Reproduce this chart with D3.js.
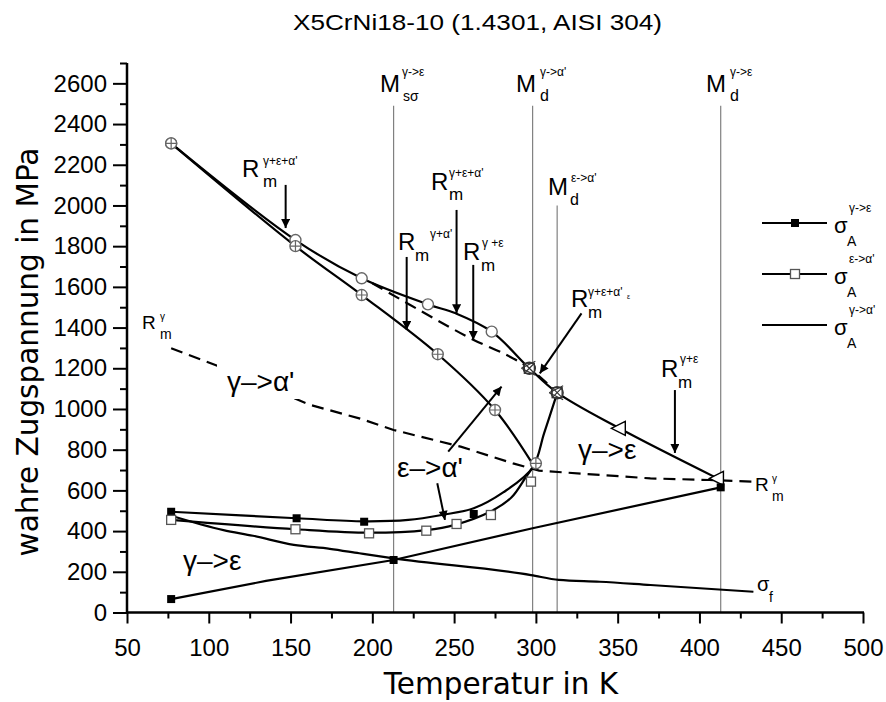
<!DOCTYPE html>
<html><head><meta charset="utf-8">
<script src="https://cdn.jsdelivr.net/npm/d3@7"></script>
<style>body{margin:0;background:#fff} svg{display:block}</style>
</head><body><svg id="c" width="886" height="702"></svg>
<script>
// ---------- data ----------
const xTicks = [50,100,150,200,250,300,350,400,450,500];
const yTicks = [0,200,400,600,800,1000,1200,1400,1600,1800,2000,2200,2400,2600];
const xMinor = [75,125,175,225,275,325,375,425,475];
const yMinor = [100,300,500,700,900,1100,1300,1500,1700,1900,2100,2300,2500,2700];

// R_m curves (temperature K, stress MPa)
const rmUpper = [[77,2305],[153,1830],[193.5,1642],[234,1514],[251,1470],[273,1380],[296,1200],[313,1080],[351,905],[411,659]];
const rmLower = [[77,2305],[153,1800],[193.5,1560],[240,1269],[275,995],[298,730]];
const rmGammaEps = [[200,1618],[241,1430],[262,1339],[282,1266],[296,1200],[313,1080]];
const rmGamma = [[77,1298],[104,1216],[162,1020],[192,954],[213,897],[254,815],[286,733],[302,697],[339,676],[370,659],[406,651],[432,643]];

// sigma_A curves
const sigAUpper = [[77,495],[153.7,463],[195,448],[222,455],[243,480],[262,512],[280,590],[298,712],[305,880],[313,1078]];
const sigALower = [[77,455],[153,409],[198,392],[233,405],[251,432],[272,495],[285,565],[294,667],[298,712]];
const sigAGammaEps = [[77,66],[135,155],[213,258],[298,414],[413,615]];
const sigmaF = [[76,478],[109,405],[127,377],[152,332],[174,313],[192,291],[213,266],[297,184],[314,160],[339,151],[370,135],[433,102]];

// markers
const mkCircle = [[77,2305],[153,1830],[193.5,1642],[234,1514],[273,1380]];
const mkCirclePlus = [[77,2305],[153,1800],[193.5,1560],[240,1269],[275,995],[300,733]];
const mkCombo = [[296,1200],[313,1080]];
const mkTriangle = [[351,905],[411,659]];
const mkFilledSq = [[77,495],[153.7,463],[195,446],[262,484],[77,66],[213,258],[413,615]];
const mkOpenSq = [[77,455],[153,409],[198,389],[233,402],[251.5,435],[272.5,479],[297,643]];

// vertical transformation temperatures [T, top stress]
const vLines = [[213,2490],[298,2490],[313,2000],[413,2490]];

// annotation arrows [[T1,S1],[T2,S2]]
const arrows = [
  [[147,2101],[147,1889]],
  [[251.5,1978],[251.5,1470]],
  [[221,1747],[221,1388]],
  [[261.7,1708],[261.7,1339]],
  [[327.9,1470],[302.4,1175]],
  [[385,1093],[385,784]],
  [[246.4,790],[279,1110]],
  [[239.7,635],[244.4,455]]
];

// ---------- drawing ----------
const svg = d3.select('#c');
const F = '"Liberation Sans", Arial, Helvetica, sans-serif';
const x = d3.scaleLinear().domain([50,500]).range([127,863]);
const y = d3.scaleLinear().domain([0,2700]).range([612.5,63]);

const defs = svg.append('defs');
defs.append('marker').attr('id','ah').attr('viewBox','0 0 10 10')
  .attr('refX',10).attr('refY',5).attr('markerWidth',14).attr('markerHeight',9)
  .attr('markerUnits','userSpaceOnUse').attr('orient','auto')
  .append('path').attr('d','M0,0L10,5L0,10Z').attr('fill','#000');

// title
svg.append('text').attr('x',293).attr('y',30).attr('font-family',F).attr('font-size',22)
  .attr('textLength',369).attr('lengthAdjust','spacingAndGlyphs')
  .text('X5CrNi18-10 (1.4301, AISI 304)');

// vertical lines
svg.append('g').selectAll('line').data(vLines).join('line')
  .attr('x1',d=>x(d[0])).attr('x2',d=>x(d[0])).attr('y1',y(0)).attr('y2',d=>y(d[1]))
  .attr('stroke','#808080').attr('stroke-width',1.2);

// axes
const gx = svg.append('g').attr('transform',`translate(0,${y(0)})`)
  .call(d3.axisBottom(x).tickValues(xTicks).tickFormat(d3.format('d')).tickSize(11).tickPadding(15).tickSizeOuter(0));
const gxm = svg.append('g').attr('transform',`translate(0,${y(0)})`)
  .call(d3.axisBottom(x).tickValues(xMinor).tickSize(6).tickFormat(''));
const gy = svg.append('g').attr('transform',`translate(${x(50)},0)`)
  .call(d3.axisLeft(y).tickValues(yTicks).tickFormat(d3.format('d')).tickSize(14).tickPadding(6).tickSizeOuter(0));
const gym = svg.append('g').attr('transform',`translate(${x(50)},0)`)
  .call(d3.axisLeft(y).tickValues(yMinor).tickSize(7).tickFormat(''));
gxm.select('.domain').remove(); gym.select('.domain').remove();
[gx,gy].forEach(g=>{
  g.select('.domain').attr('stroke','#000').attr('stroke-width',2.5);
  g.selectAll('text').attr('font-family',F).attr('font-size',24).attr('fill','#000');
});
gy.select('.domain').attr('d',`M0,${y(0)+1}V${y(2700)}`);
gx.select('.domain').attr('d',`M${x(50)-1},0H${x(500)+1}`);
[gx,gy,gxm,gym].forEach(g=>g.selectAll('.tick line').attr('stroke','#000').attr('stroke-width',2));

// axis titles
svg.append('text').attr('x',501).attr('y',694).attr('text-anchor','middle')
  .attr('font-family','"DejaVu Sans", sans-serif').attr('font-size',29.5).text('Temperatur in K');
svg.append('text').attr('transform','translate(38,352) rotate(-90)').attr('text-anchor','middle')
  .attr('font-family','"DejaVu Sans", sans-serif').attr('font-size',29.5).text('wahre Zugspannung in MPa');

const lineGen = (c)=>d3.line().x(d=>x(d[0])).y(d=>y(d[1])).curve(c);
function curve(data, c, dash){
  svg.append('path').datum(data).attr('d',lineGen(c)).attr('fill','none')
    .attr('stroke','#000').attr('stroke-width',2.2).attr('stroke-dasharray',dash||null);
}
curve(rmUpper, d3.curveCatmullRom);
curve(rmLower, d3.curveCatmullRom);
curve(rmGammaEps, d3.curveCatmullRom, '12,7');
curve(rmGamma, d3.curveLinear, '12,7');
curve(sigAUpper, d3.curveCatmullRom);
curve(sigALower, d3.curveCatmullRom);
curve(sigAGammaEps, d3.curveLinear);
curve(sigmaF, d3.curveMonotoneX);

// markers
const mg = svg.append('g');
mkCircle.forEach(d=>mg.append('circle').attr('cx',x(d[0])).attr('cy',y(d[1])).attr('r',5.5)
  .attr('fill','#fff').attr('stroke','#666').attr('stroke-width',1.4));
mkCirclePlus.forEach(d=>{
  const cx=x(d[0]), cy=y(d[1]);
  mg.append('circle').attr('cx',cx).attr('cy',cy).attr('r',5.5).attr('fill','#fff').attr('stroke','#666').attr('stroke-width',1.4);
  mg.append('path').attr('d',`M${cx-5.5},${cy}H${cx+5.5}M${cx},${cy-5.5}V${cy+5.5}`).attr('stroke','#666').attr('stroke-width',1.2);
});
mkCombo.forEach(d=>{
  const cx=x(d[0]), cy=y(d[1]);
  mg.append('rect').attr('x',cx-5).attr('y',cy-5).attr('width',10).attr('height',10).attr('fill','#fff').attr('stroke','#333').attr('stroke-width',1.3);
  mg.append('circle').attr('cx',cx).attr('cy',cy).attr('r',6).attr('fill','none').attr('stroke','#333').attr('stroke-width',1.4);
  mg.append('path').attr('d',`M${cx-5},${cy-5}L${cx+5},${cy+5}M${cx-5},${cy+5}L${cx+5},${cy-5}M${cx-8},${cy}L${cx+6},${cy-7}M${cx-8},${cy}L${cx+6},${cy+7}`)
    .attr('stroke','#333').attr('stroke-width',1.2).attr('fill','none');
});
mkTriangle.forEach(d=>{
  const cx=x(d[0]), cy=y(d[1]);
  mg.append('path').attr('d',`M${cx-8},${cy}L${cx+6},${cy-7}L${cx+6},${cy+7}Z`).attr('fill','#fff').attr('stroke','#000').attr('stroke-width',1.4);
});
mkFilledSq.forEach(d=>mg.append('rect').attr('x',x(d[0])-4).attr('y',y(d[1])-4).attr('width',8).attr('height',8).attr('fill','#000'));
mkOpenSq.forEach(d=>mg.append('rect').attr('x',x(d[0])-4.5).attr('y',y(d[1])-4.5).attr('width',9).attr('height',9)
  .attr('fill','#fff').attr('stroke','#555').attr('stroke-width',1.3));

// arrows
svg.append('g').selectAll('line').data(arrows).join('line')
  .attr('x1',d=>x(d[0][0])).attr('y1',d=>y(d[0][1])).attr('x2',d=>x(d[1][0])).attr('y2',d=>y(d[1][1]))
  .attr('stroke','#000').attr('stroke-width',2).attr('marker-end','url(#ah)');

// text helpers
function t(xp,yp,s,fs,opt){
  const e = svg.append('text').attr('x',xp).attr('y',yp).attr('font-family',F).attr('font-size',fs).text(s);
  if(opt&&opt.bg){ const b=e.node().getBBox();
    svg.insert('rect',()=>e.node()).attr('x',b.x-10).attr('y',b.y-2).attr('width',b.width+20).attr('height',b.height+4).attr('fill','#fff'); }
  return e;
}
// top labels
t(380,92,'M',24); t(403,101,'sσ',14); t(402,76,'γ->ε',12);
t(516,92,'M',24); t(540,101,'d',16); t(540,76,'γ->α\'',12);
t(706,92,'M',24); t(730,101,'d',16); t(730,76,'γ->ε',12);
t(548,195,'M',24); t(570,205,'d',16); t(571,182,'ε->α\'',12);
// R_m labels
t(242,177,'R',24); t(263,187,'m',17); t(263,165,'γ+ε+α\'',12);
t(431,190,'R',24); t(449,200,'m',17); t(449,177,'γ+ε+α\'',12);
t(398,250,'R',24); t(415,261,'m',17); t(430,238,'γ+α\'',12);
t(463,260,'R',24); t(481,271,'m',17); t(482,247,'γ +ε',12);
t(571,307,'R',24); t(588,318,'m',17); t(588,296,'γ+ε+α\'',12); t(627,299,'ε',7);
t(661,377,'R',24); t(678,388,'m',17); t(680,363,'γ+ε',12);
t(142,329,'R',19); t(160,339,'m',14); t(160,320,'γ',10);
t(755,491,'R',19); t(772,501,'m',14); t(772,482,'γ',10);
t(757,591,'σ',20); t(769,602,'f',14);
// transformation labels
t(227,391,'γ–>α\'',28,{bg:true});
t(183,570,'γ–>ε',28);
t(578,459,'γ–>ε',28);
t(397,477,'ε–>α\'',28);

// legend
const legItems = [['γ->ε','filled'],['ε->α\'','open'],['γ->α\'','none']];
legItems.forEach((it,i)=>{
  const ly = 223 + i*51;
  svg.append('line').attr('x1',762).attr('x2',827).attr('y1',ly).attr('y2',ly).attr('stroke','#000').attr('stroke-width',2.2);
  if(it[1]==='filled') svg.append('rect').attr('x',791).attr('y',ly-4).attr('width',8).attr('height',8).attr('fill','#000');
  if(it[1]==='open') svg.append('rect').attr('x',790.5).attr('y',ly-4.5).attr('width',9).attr('height',9).attr('fill','#fff').attr('stroke','#555').attr('stroke-width',1.3);
  t(834,ly+10,'σ',22); t(847,ly+23,'A',14); t(849,ly-11,it[0],12);
});
</script></body></html>
